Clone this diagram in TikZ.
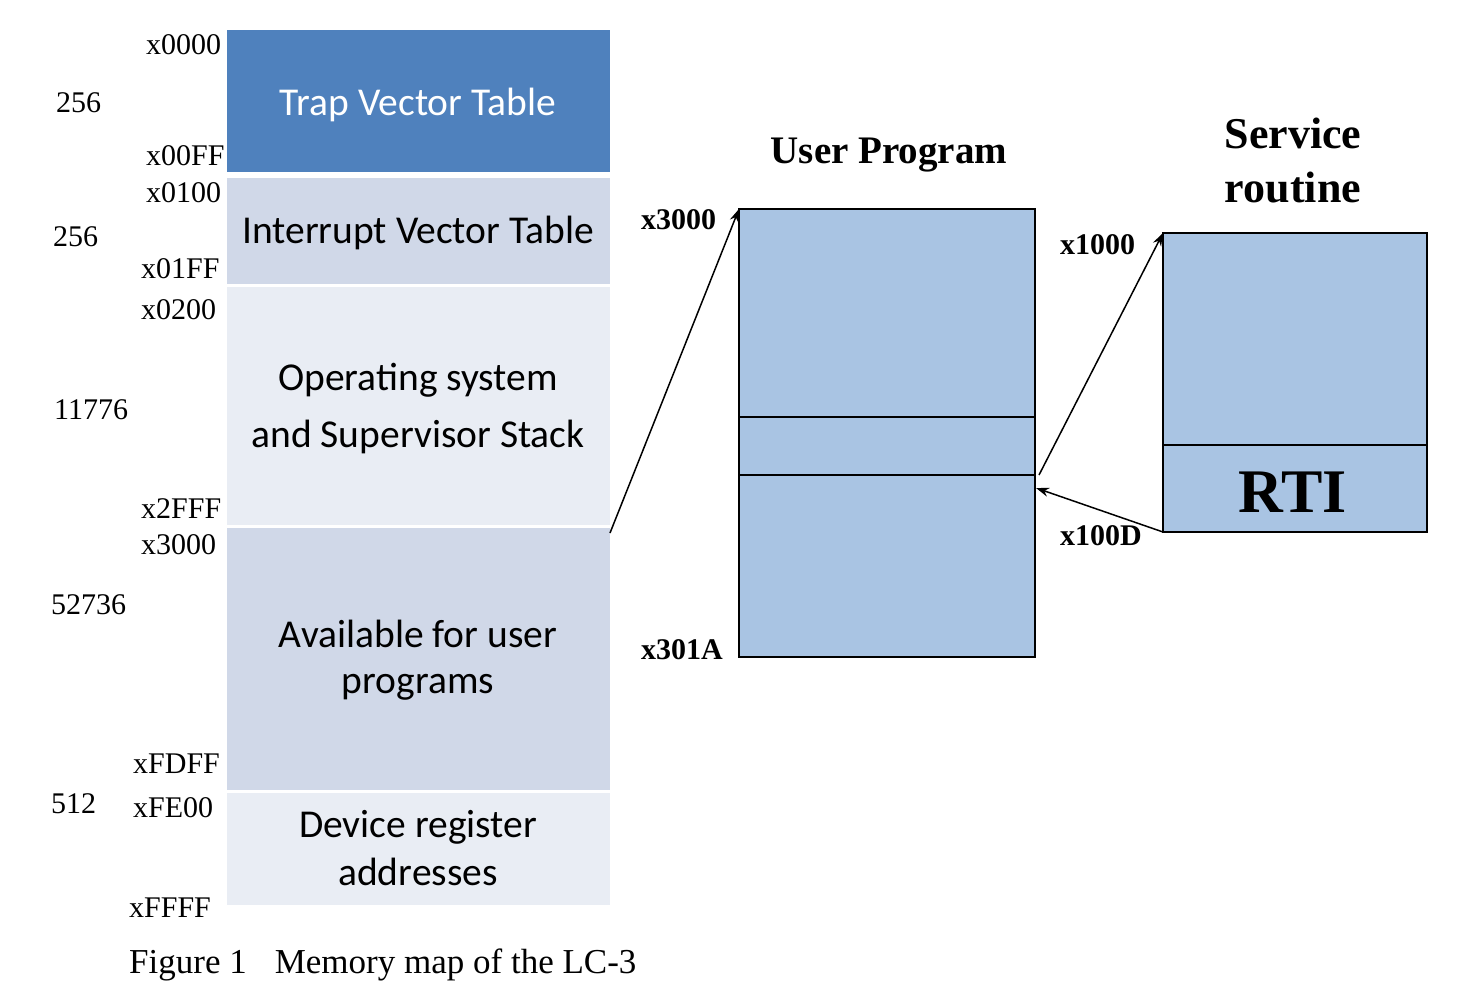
\documentclass[tikz,border=0pt]{standalone}
\usepackage{fontspec}
\setmainfont{Liberation Serif}
\newfontfamily\cfont{Carlito}
\usetikzlibrary{arrows.meta,calc}
\definecolor{trapc}{HTML}{4F81BD}
\definecolor{ivtc}{HTML}{D0D8E8}
\definecolor{osc}{HTML}{E9EDF4}
\definecolor{userc}{HTML}{A9C4E3}
\begin{document}
\begin{tikzpicture}[x=1pt,y=-1pt,
  memblk/.style={anchor=north west, inner sep=0pt, outer sep=0pt, minimum width=383pt},
  codeblk/.style={anchor=north west, inner sep=0pt, outer sep=0pt, fill=userc, draw=black, line width=2pt},
  addr/.style={anchor=base west, inner sep=0pt, font=\fontsize{30}{35}\selectfont},
  baddr/.style={anchor=base west, inner sep=0pt, font=\bfseries\fontsize{30}{35}\selectfont},
  memtxt/.style={anchor=base, inner sep=0pt, font=\cfont\fontsize{39.5}{46}\selectfont},
  headtxt/.style={anchor=base, inner sep=0pt, font=\bfseries\fontsize{44}{50}\selectfont},
  link/.style={line width=1.5pt, -{Stealth[length=13pt,width=9pt]}}
]
\useasboundingbox (0,0) rectangle (1484,988);

% memory map
\node[memblk, fill=trapc, minimum height=142pt] (trap) at (227,30) {};
\node[memblk, fill=ivtc, minimum height=106pt] (ivt) at (227,178) {};
\node[memblk, fill=osc, minimum height=238pt] (os) at (227,287) {};
\node[memblk, fill=ivtc, minimum height=262pt] (avail) at (227,528) {};
\node[memblk, fill=osc, minimum height=112pt] (dev) at (227,793) {};

\node[memtxt, text=white] (trapT) at (418,115) {Trap Vector Table};
\node[memtxt] (ivtT) at (418,243) {Interrupt Vector Table};
\node[memtxt] (osT1) at (418,390) {Operating system};
\node[memtxt] (osT2) at (418,447) {and Supervisor Stack};
\node[memtxt] (avT1) at (418,647) {Available for user};
\node[memtxt] (avT2) at (418,693) {programs};
\node[memtxt] (devT1) at (418,837) {Device register};
\node[memtxt] (devT2) at (418,885) {addresses};

% address labels
\node[addr] (a0) at (146,54) {x0000};
\node[addr] (s0) at (56,112) {256};
\node[addr] (a1) at (146,165) {x00FF};
\node[addr] (a2) at (146,202) {x0100};
\node[addr] (s1n) at (53,246) {256};
\node[addr] (a3) at (141,278) {x01FF};
\node[addr] (a4) at (141,319) {x0200};
\node[addr] (s2n) at (54,419) {11776};
\node[addr] (a5) at (141,518) {x2FFF};
\node[addr] (a6) at (141,554) {x3000};
\node[addr] (s3n) at (51,614) {52736};
\node[addr] (a7) at (133,773) {xFDFF};
\node[addr] (s4n) at (51,813) {512};
\node[addr] (a8) at (133,817) {xFE00};
\node[addr] (a9) at (129,917) {xFFFF};
\node[addr, font=\fontsize{35}{40}\selectfont] (cap) at (129,973) {Figure 1\hspace{28pt}Memory map of the LC-3};

% user program
\node[headtxt, font=\bfseries\fontsize{39}{45}\selectfont] (upT) at (889,163) {User Program};
\node[codeblk, minimum width=296pt, minimum height=208pt] (u1) at (739,209) {};
\node[codeblk, minimum width=296pt, minimum height=58pt] (u2) at (739,417) {};
\node[codeblk, minimum width=296pt, minimum height=182pt] (u3) at (739,475) {};
\node[baddr] (ua) at (641,229) {x3000};
\node[baddr] (ub) at (641,659) {x301A};

% service routine
\node[headtxt] (srT1) at (1293,148) {Service};
\node[headtxt] (srT2) at (1293,202) {routine};
\node[codeblk, minimum width=264pt, minimum height=212pt] (sr1) at (1163,233) {};
\node[codeblk, minimum width=264pt, minimum height=87pt] (sr2) at (1163,445) {};
\node[anchor=base, inner sep=0pt, font=\bfseries\fontsize{62}{70}\selectfont] (rti) at (1293,512) {RTI};
\node[baddr] (sa) at (1060,254) {x1000};
\node[baddr] (sb) at (1060,545) {x100D};

% connectors
\draw[link] ($(avail.north east)+(0,5)$) -- (u1.north west);
\draw[link] ($(u3.north east)+(4,0)$) -- (sr1.north west);
\draw[link] (sr2.south west) -- ($(u3.north east)+(1,13)$);
\end{tikzpicture}
\end{document}
